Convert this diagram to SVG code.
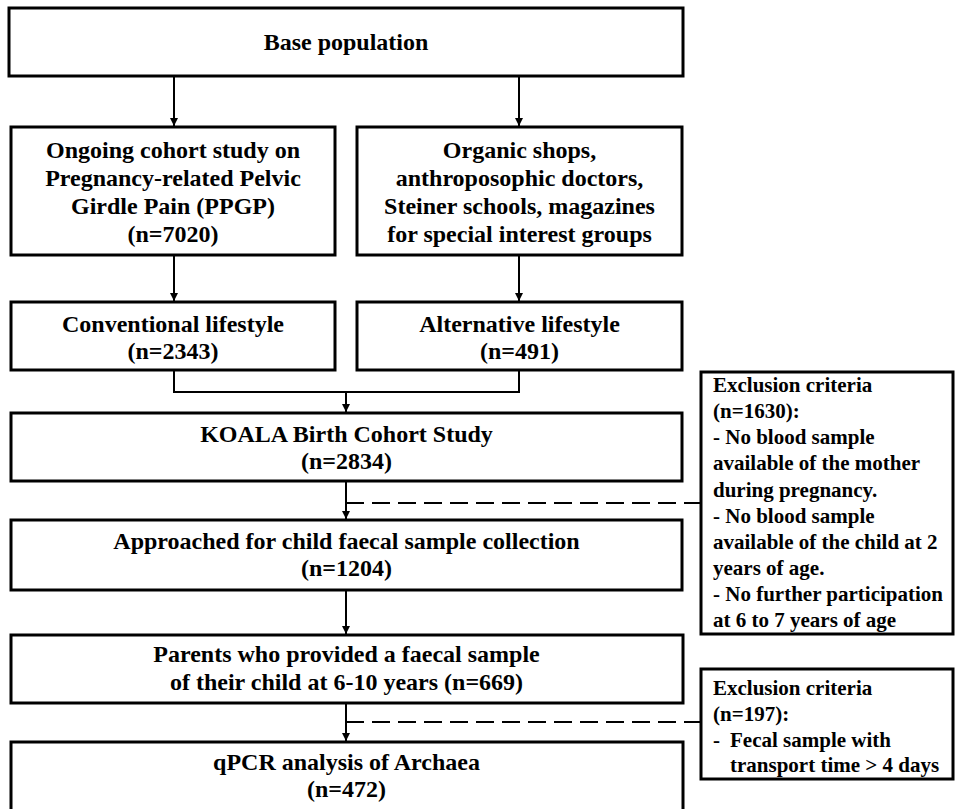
<svg xmlns="http://www.w3.org/2000/svg" width="955" height="809" viewBox="0 0 955 809">
<style>
.box{fill:#fff;stroke:#000;stroke-width:3}
.t{font-size:24px;fill:#000;text-anchor:middle}
.e{font-size:21px;fill:#000}
.c{fill:none;stroke:#000;stroke-width:2}
.d{fill:none;stroke:#000;stroke-width:2;stroke-dasharray:18 8}
</style>
<defs>
<marker id="ah" markerUnits="userSpaceOnUse" markerWidth="9" markerHeight="9" refX="8" refY="4" orient="auto">
<path d="M0,0 L8,4 L0,8 z" fill="#000"/>
</marker>
</defs>
<rect width="955" height="809" fill="#fff"/>
<g id="connectors">
<line class="c" x1="174" y1="76" x2="174" y2="126" marker-end="url(#ah)"/>
<line class="c" x1="519" y1="76" x2="519" y2="126" marker-end="url(#ah)"/>
<line class="c" x1="174" y1="255" x2="174" y2="301" marker-end="url(#ah)"/>
<line class="c" x1="519" y1="255" x2="519" y2="301" marker-end="url(#ah)"/>
<polyline class="c" points="174,370 174,392 519,392 519,370"/>
<line class="c" x1="346" y1="392" x2="346" y2="412" marker-end="url(#ah)"/>
<line class="c" x1="346" y1="481" x2="346" y2="519" marker-end="url(#ah)"/>
<line class="d" x1="346" y1="503" x2="701" y2="503"/>
<line class="c" x1="346" y1="590" x2="346" y2="634" marker-end="url(#ah)"/>
<line class="c" x1="346" y1="703" x2="346" y2="741" marker-end="url(#ah)"/>
<line class="d" x1="346" y1="722" x2="701" y2="722"/>
</g>
<g font-family="'Liberation Serif', 'Times New Roman', 'DejaVu Serif', serif" font-weight="bold">
<g id="base">
<rect class="box" x="9" y="8" width="674" height="68"/>
<text class="t" x="346" y="50">Base population</text>
</g>
<g id="ppgp">
<rect class="box" x="11" y="127" width="324" height="128"/>
<text class="t" x="173" y="158">Ongoing cohort study on</text>
<text class="t" x="173" y="186">Pregnancy-related Pelvic</text>
<text class="t" x="173" y="214">Girdle Pain (PPGP)</text>
<text class="t" x="173" y="242">(n=7020)</text>
</g>
<g id="organic">
<rect class="box" x="357" y="127" width="325" height="128"/>
<text class="t" x="519.5" y="158">Organic shops,</text>
<text class="t" x="519.5" y="186">anthroposophic doctors,</text>
<text class="t" x="519.5" y="214">Steiner schools, magazines</text>
<text class="t" x="519.5" y="242">for special interest groups</text>
</g>
<g id="conventional">
<rect class="box" x="11" y="302" width="324" height="68"/>
<text class="t" x="173" y="332">Conventional lifestyle</text>
<text class="t" x="173" y="359">(n=2343)</text>
</g>
<g id="alternative">
<rect class="box" x="357" y="302" width="325" height="68"/>
<text class="t" x="519.5" y="332">Alternative lifestyle</text>
<text class="t" x="519.5" y="359">(n=491)</text>
</g>
<g id="koala">
<rect class="box" x="11" y="413" width="671" height="68"/>
<text class="t" x="346.5" y="442">KOALA Birth Cohort Study</text>
<text class="t" x="346.5" y="469">(n=2834)</text>
</g>
<g id="approached">
<rect class="box" x="11" y="520" width="671" height="70"/>
<text class="t" x="346.5" y="549">Approached for child faecal sample collection</text>
<text class="t" x="346.5" y="576">(n=1204)</text>
</g>
<g id="parents">
<rect class="box" x="11" y="635" width="672" height="68"/>
<text class="t" x="346.5" y="662">Parents who provided a faecal sample</text>
<text class="t" x="346.5" y="690">of their child at 6-10 years (n=669)</text>
</g>
<g id="qpcr">
<rect class="box" x="11" y="742" width="672" height="90"/>
<text class="t" x="346.5" y="770">qPCR analysis of Archaea</text>
<text class="t" x="346.5" y="797">(n=472)</text>
</g>
<g id="exclusion1">
<rect class="box" x="701" y="372" width="252" height="262"/>
<text class="e" x="713" y="392">Exclusion criteria</text>
<text class="e" x="713" y="418">(n=1630):</text>
<text class="e" x="713" y="444">- No blood sample</text>
<text class="e" x="713" y="470">available of the mother</text>
<text class="e" x="713" y="497">during pregnancy.</text>
<text class="e" x="713" y="523">- No blood sample</text>
<text class="e" x="713" y="549">available of the child at 2</text>
<text class="e" x="713" y="575">years of age.</text>
<text class="e" x="713" y="601">- No further participation</text>
<text class="e" x="713" y="627">at 6 to 7 years of age</text>
</g>
<g id="exclusion2">
<rect class="box" x="701" y="669" width="252" height="110"/>
<text class="e" x="713" y="695">Exclusion criteria</text>
<text class="e" x="713" y="721">(n=197):</text>
<text class="e" x="713" y="747">-</text>
<text class="e" x="730" y="747">Fecal sample with</text>
<text class="e" x="730" y="772">transport time &gt; 4 days</text>
</g>
</g>
</svg>
